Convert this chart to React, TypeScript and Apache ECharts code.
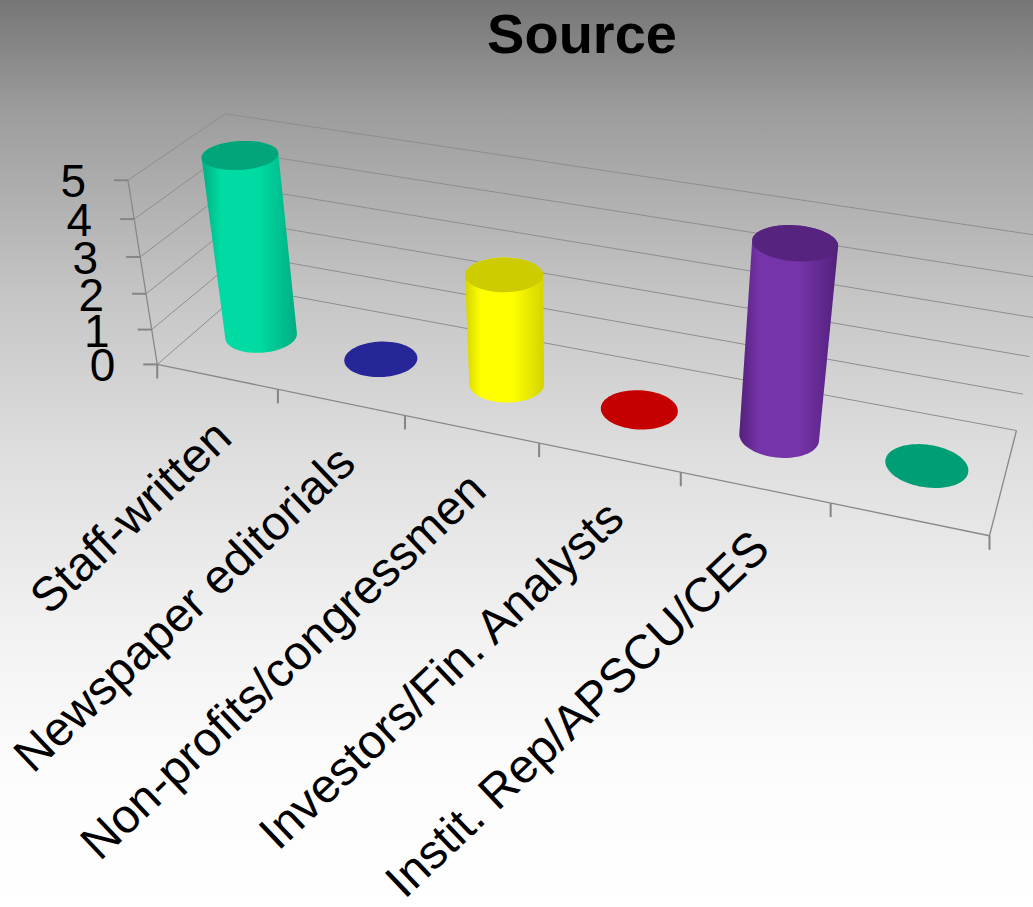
import React, { useEffect, useRef } from 'react';
import * as echarts from 'echarts';

// ---- data ----
const categories = ['Staff-written', 'Newspaper editorials', 'Non-profits/congressmen', 'Investors/Fin. Analysts', 'Instit. Rep/APSCU/CES', ''];
const values = [5, 0, 3, 0, 5, 0];
const valueTicks = [0, 1, 2, 3, 4, 5];
const VMAX = 5;

// ---- palette (per category) ----
const brightColors = ['#00dba3', '#3333cc', '#ffff00', '#d00000', '#7634aa', '#00b080'];
const edgeColors = ['#00ad82', '#222288', '#d4d400', '#a00000', '#52207a', '#008a66'];
const topColors = ['#00a67a', '#262699', '#cccc00', '#c40000', '#56237f', '#009e75'];

// ---- 3D frame calibration (box units: X category, Y value, Z depth) -> screen ----
const CAL: number[][] = [
  [0, 0, 0, 157, 363.3], [1, 0, 0, 277.3, 390], [2, 0, 0, 405, 415.7], [3, 0, 0, 539, 443.3],
  [4, 0, 0, 681, 473.3], [5, 0, 0, 831, 503.3], [6, 0, 0, 989, 535],
  [0, 1, 0, 152, 330.7], [0, 2, 0, 146.5, 293], [0, 3, 0, 141, 256], [0, 4, 0, 134, 218.3], [0, 5, 0, 127.5, 181],
  [0, 5, 1, 225, 114.3], [6, 0, 1, 1016.3, 430], [6, 1, 1, 1023, 394], [6, 2, 1, 1029.7, 356.7],
];

function solve(A: number[][], b: number[]): number[] {
  const n = b.length;
  const M = A.map((r, i) => [...r, b[i]]);
  for (let c = 0; c < n; c++) {
    let piv = c;
    for (let r = c + 1; r < n; r++) if (Math.abs(M[r][c]) > Math.abs(M[piv][c])) piv = r;
    const tmp = M[c]; M[c] = M[piv]; M[piv] = tmp;
    for (let r = 0; r < n; r++) {
      if (r === c) continue;
      const f = M[r][c] / M[c][c];
      for (let k = c; k <= n; k++) M[r][k] -= f * M[c][k];
    }
  }
  return M.map((r, i) => r[n] / r[i]);
}

function fitCamera(): number[] {
  const rows: number[][] = [];
  const rhs: number[] = [];
  for (const [X, Y, Z, u0, v0] of CAL) {
    const u = (u0 - 500) / 500, v = (v0 - 450) / 500;
    rows.push([X, Y, Z, 1, 0, 0, 0, 0, -u * X, -u * Y, -u * Z]); rhs.push(u);
    rows.push([0, 0, 0, 0, X, Y, Z, 1, -v * X, -v * Y, -v * Z]); rhs.push(v);
  }
  const n = 11;
  const AtA = Array.from({ length: n }, () => new Array(n).fill(0));
  const Atb = new Array(n).fill(0);
  rows.forEach((r, k) => {
    for (let i = 0; i < n; i++) {
      Atb[i] += r[i] * rhs[k];
      for (let j = 0; j < n; j++) AtA[i][j] += r[i] * r[j];
    }
  });
  return solve(AtA, Atb);
}
const P = fitCamera();
function project(X: number, Y: number, Z: number): [number, number] {
  const w = P[8] * X + P[9] * Y + P[10] * Z + 1;
  return [((P[0] * X + P[1] * Y + P[2] * Z + P[3]) / w) * 500 + 500, ((P[4] * X + P[5] * Y + P[6] * Z + P[7]) / w) * 500 + 450];
}

function hull(pts: [number, number][]): [number, number][] {
  const p = pts.slice().sort((a, b) => a[0] - b[0] || a[1] - b[1]);
  const cross = (o: number[], a: number[], b: number[]) => (a[0] - o[0]) * (b[1] - o[1]) - (a[1] - o[1]) * (b[0] - o[0]);
  const lower: [number, number][] = [];
  for (const q of p) { while (lower.length >= 2 && cross(lower[lower.length - 2], lower[lower.length - 1], q) <= 0) lower.pop(); lower.push(q); }
  const upper: [number, number][] = [];
  for (let i = p.length - 1; i >= 0; i--) { const q = p[i]; while (upper.length >= 2 && cross(upper[upper.length - 2], upper[upper.length - 1], q) <= 0) upper.pop(); upper.push(q); }
  upper.pop(); lower.pop();
  return lower.concat(upper);
}

const N = categories.length;
function boxOf(cs: any, pt: number[]): [number, number] {
  return [((pt[0] - cs.x) / cs.width) * N, ((cs.y + cs.height - pt[1]) / cs.height) * VMAX];
}

const GRID = '#8e8e8e';
const FONT = 'Liberation Sans, Arial, sans-serif';
const RX = 0.27, RZ = 0.2, ZC = 0.5;

function line(a: number[], b: number[], color = GRID, width = 1) {
  return { type: 'line', shape: { x1: a[0], y1: a[1], x2: b[0], y2: b[1] }, style: { stroke: color, lineWidth: width } };
}

function renderFrame(params: any, api: any) {
  const cs = params.coordSys;
  const bnd = categories.map((_, i) => boxOf(cs, api.coord([i, 0]))[0] - 0.5);
  bnd.push(bnd[N - 1] + 1);
  const X0 = bnd[0], X1 = bnd[N];
  const lv = valueTicks.map((t) => boxOf(cs, api.coord([0, t]))[1]);
  const top = lv[lv.length - 1];
  const ch: any[] = [];
  lv.forEach((V) => {
    ch.push(line(project(X0, V, 1), project(X1, V, 1)));
    ch.push(line(project(X0, V, 0), project(X0, V, 1)));
  });
  ch.push(line(project(X0, 0, 0), project(X0, top, 0), '#888', 1.3));
  ch.push(line(project(X0, 0, 0), project(X1, 0, 0), '#888', 1.3));
  ch.push(line(project(X1, 0, 0), project(X1, 0, 1), '#888', 1.3));
  bnd.forEach((b) => {
    const p = project(b, 0, 0);
    ch.push(line(p, [p[0], p[1] + 14], '#858585', 2));
  });
  lv.forEach((V, k) => {
    const p = project(X0, V, 0);
    ch.push(line([p[0] - 14, p[1]], p, '#858585', 2));
    ch.push({
      type: 'text', x: p[0] - 42, y: p[1] + 1,
      style: { text: String(valueTicks[k]), fill: '#000', fontSize: 46, fontFamily: FONT, align: 'right', verticalAlign: 'middle' },
    });
  });
  categories.forEach((c, i) => {
    const Xc = boxOf(cs, api.coord([i, 0]))[0];
    const p = project(Xc, 0, 0);
    ch.push({
      type: 'text', x: p[0] + 6, y: p[1] + 52, rotation: (43.5 * Math.PI) / 180,
      style: { text: c, fill: '#000', fontSize: 48, fontFamily: FONT, align: 'right', verticalAlign: 'middle' },
    });
  });
  return { type: 'group', children: ch };
}

function renderCylinder(params: any, api: any) {
  const cs = params.coordSys;
  const i = api.value(0), v = api.value(1);
  const idx = params.dataIndex;
  const Xc = boxOf(cs, api.coord([i, 0]))[0];
  const Vt = boxOf(cs, api.coord([i, v]))[1];
  const bottom: [number, number][] = [];
  const topPts: [number, number][] = [];
  for (let k = 0; k < 72; k++) {
    const t = (2 * Math.PI * k) / 72;
    const X = Xc + RX * Math.cos(t), Z = ZC + RZ * Math.sin(t);
    bottom.push(project(X, 0, Z));
    topPts.push(project(X, Vt, Z));
  }
  const ch: any[] = [];
  if (Vt > 0.001) {
    ch.push({
      type: 'polygon', shape: { points: hull(bottom.concat(topPts)) },
      style: {
        fill: new echarts.graphic.LinearGradient(0, 0, 1, 0, [
          { offset: 0, color: edgeColors[idx] },
          { offset: 0.2, color: brightColors[idx] },
          { offset: 0.6, color: brightColors[idx] },
          { offset: 1, color: edgeColors[idx] },
        ]),
      },
    });
  }
  ch.push({ type: 'polygon', shape: { points: topPts }, style: { fill: topColors[idx] } });
  return { type: 'group', children: ch };
}

const option: any = {
  animation: false,
  backgroundColor: new echarts.graphic.LinearGradient(0, 0, 0, 1, [
    { offset: 0, color: '#767676' },
    { offset: 0.12, color: '#9c9c9c' },
    { offset: 0.33, color: '#c6c6c6' },
    { offset: 0.5, color: '#dedede' },
    { offset: 0.7, color: '#f2f2f2' },
    { offset: 0.85, color: '#fcfcfc' },
    { offset: 1, color: '#ffffff' },
  ]),
  grid: { left: 100, right: 100, top: 100, bottom: 100 },
  xAxis: { type: 'category', data: categories, show: false },
  yAxis: { type: 'value', min: 0, max: VMAX, interval: 1, show: false },
  graphic: [{
    type: 'text', x: 582, y: 33,
    style: { text: 'Source', fill: '#000', fontSize: 56, fontWeight: 'bold', fontFamily: FONT, align: 'center', verticalAlign: 'middle' },
  }],
  series: [
    { type: 'custom', silent: true, renderItem: renderFrame, data: [[0, 0]], z: 1 },
    { type: 'custom', silent: true, renderItem: renderCylinder, data: values.map((v, i) => [i, v]), z: 2 },
  ],
};

export default function App() {
  const ref = useRef<HTMLDivElement>(null);
  useEffect(() => {
    const chart = echarts.init(ref.current!, undefined, { renderer: 'svg' });
    chart.setOption(option);
    return () => chart.dispose();
  }, []);
  return <div ref={ref} style={{ position: 'absolute', left: 0, top: 0, width: 1033, height: 907 }} />;
}
